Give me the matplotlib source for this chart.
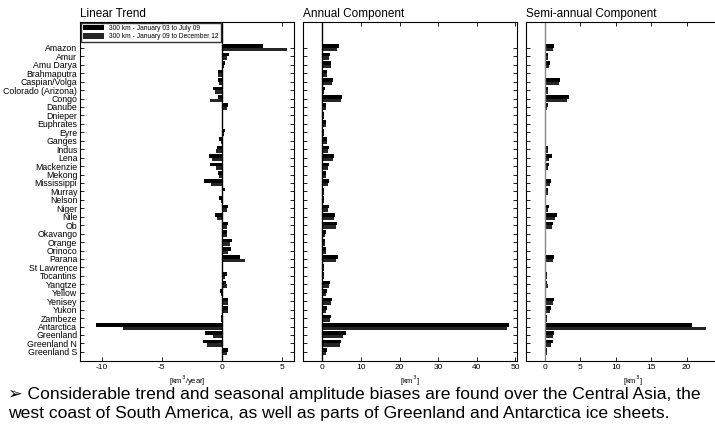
import matplotlib.pyplot as plt
import numpy as np

plt.rcParams['font.family'] = ['Liberation Sans', 'DejaVu Sans']
plt.rcParams['axes.unicode_minus'] = False

basins = ['Amazon', 'Amur', 'Amu Darya', 'Brahmaputra', 'Caspian/Volga', 'Colorado (Arizona)',
          'Congo', 'Danube', 'Dnieper', 'Euphrates', 'Eyre', 'Ganges', 'Indus', 'Lena',
          'Mackenzie', 'Mekong', 'Mississippi', 'Murray', 'Nelson', 'Niger', 'Nile', 'Ob',
          'Okavango', 'Orange', 'Orinoco', 'Parana', 'St Lawrence', 'Tocantins', 'Yangtze',
          'Yellow', 'Yenisey', 'Yukon', 'Zambeze', 'Antarctica', 'Greenland', 'Greenland N',
          'Greenland S']

legend_labels = ['300 km - January 03 to July 09', '300 km - January 09 to December 12']

# linear trend [km3/year]
trend_a = [3.4, 0.6, 0.3, -0.35, -0.3, -0.7, -0.35, 0.55, 0.05, 0.0, 0.3, -0.2, -0.4, -1.1,
           -1.0, -0.3, -1.45, 0.25, -0.2, 0.5, -0.6, 0.5, 0.45, 0.85, 0.8, 1.55, 0.0, 0.4,
           0.35, -0.15, 0.5, 0.5, -0.1, -10.5, -1.4, -1.55, 0.5]
trend_b = [5.4, 0.4, 0.2, -0.3, -0.2, -0.6, -0.95, 0.4, 0.03, 0.0, 0.2, -0.1, -0.45, -0.8,
           -0.5, -0.2, -0.9, 0.1, -0.1, 0.4, -0.4, 0.4, 0.4, 0.7, 0.55, 1.9, 0.0, 0.3,
           0.4, -0.05, 0.5, 0.5, -0.1, -8.2, -0.75, -1.2, 0.4]

# annual amplitude [km3]
annual_a = [4.4, 2.0, 2.3, 1.3, 2.8, 0.6, 5.0, 0.9, 0.5, 0.9, 0.5, 1.3, 1.6, 3.0, 1.6, 0.9,
            1.6, 0.5, 0.4, 1.8, 3.3, 3.7, 0.9, 0.7, 0.9, 3.9, 0.5, 0.5, 2.0, 1.1, 2.5, 1.1,
            2.2, 48.3, 6.1, 4.8, 1.1]
annual_b = [3.8, 1.8, 2.1, 1.1, 2.4, 0.5, 4.8, 0.8, 0.4, 0.8, 0.4, 1.2, 1.5, 2.7, 1.4, 0.8,
            1.4, 0.4, 0.3, 1.5, 3.0, 3.4, 0.7, 0.6, 0.8, 3.5, 0.4, 0.4, 1.7, 1.0, 2.2, 1.0,
            1.9, 47.8, 5.4, 4.5, 1.0]

# semi-annual amplitude [km3]
semi_a = [1.3, 0.5, 0.7, 0.2, 2.2, 0.4, 3.4, 0.4, 0.2, 0.2, 0.2, 0.15, 0.4, 1.0, 0.6, 0.25,
          0.9, 0.4, 0.2, 0.6, 1.7, 1.1, 0.2, 0.2, 0.2, 1.3, 0.2, 0.35, 0.35, 0.2, 1.3, 0.9,
          0.3, 20.8, 1.3, 1.1, 0.3]
semi_b = [1.2, 0.4, 0.6, 0.2, 2.0, 0.4, 3.1, 0.3, 0.2, 0.2, 0.2, 0.15, 0.4, 0.6, 0.5, 0.25,
          0.8, 0.4, 0.2, 0.5, 1.4, 1.0, 0.2, 0.2, 0.2, 1.2, 0.2, 0.3, 0.4, 0.2, 1.2, 0.8,
          0.3, 22.7, 1.2, 0.9, 0.3]

panels = [
    ('Linear Trend', trend_a, trend_b, (-11.8, 6.0), [-10, -5, 0, 5], '[km$^3$/year]'),
    ('Annual Component', annual_a, annual_b, (-5, 50.4), [0, 10, 20, 30, 40, 50], '[km$^3$]'),
    ('Semi-annual Component', semi_a, semi_b, (-2.6, 27.5), [0, 5, 10, 15, 20], '[km$^3$]'),
]
lefts = [0.112, 0.424, 0.736]

fig = plt.figure(figsize=(7.15, 4.33), dpi=100)
y = np.arange(len(basins))
h = 0.42

for i, (title, va, vb, xlim, xticks, xlabel) in enumerate(panels):
    ax = fig.add_axes([lefts[i], 0.166, 0.299, 0.783])
    ax.barh(y - h / 2, va, height=h, color='#000000', label=legend_labels[0])
    ax.barh(y + h / 2, vb, height=h, color='#262626', label=legend_labels[1])
    ax.axvline(0, color='black' if i < 2 else '#888888', lw=1.0)
    ax.set_xlim(*xlim)
    ax.set_ylim(37.1, -3.05)
    ax.set_xticks(xticks)
    ax.set_yticks(y)
    if i == 0:
        ax.set_yticklabels(basins, fontsize=6.3)
        ax.legend(loc='upper left', fontsize=4.8, frameon=True, fancybox=False,
                  edgecolor='black', handlelength=3.2, handleheight=0.9,
                  borderaxespad=0.1, labelspacing=0.2, borderpad=0.3)
    else:
        ax.set_yticklabels([])
    ax.tick_params(axis='both', direction='in', length=3, width=0.6,
                   top=True, right=True, labelsize=6.3, pad=2)
    ax.tick_params(axis='x', labelsize=6)
    ax.set_xlabel(xlabel, fontsize=5.5, labelpad=2)
    ax.set_title(title, loc='left', fontsize=8.5, pad=4)
    for s in ax.spines.values():
        s.set_linewidth(0.8)

fig.text(0.011, 0.088,
         '\u27a2 Considerable trend and seasonal amplitude biases are found over the Central Asia, the',
         fontsize=12.6, va='center', ha='left')
fig.text(0.011, 0.044,
         'west coast of South America, as well as parts of Greenland and Antarctica ice sheets.',
         fontsize=12.6, va='center', ha='left')

fig.savefig('out.png', dpi=100)
